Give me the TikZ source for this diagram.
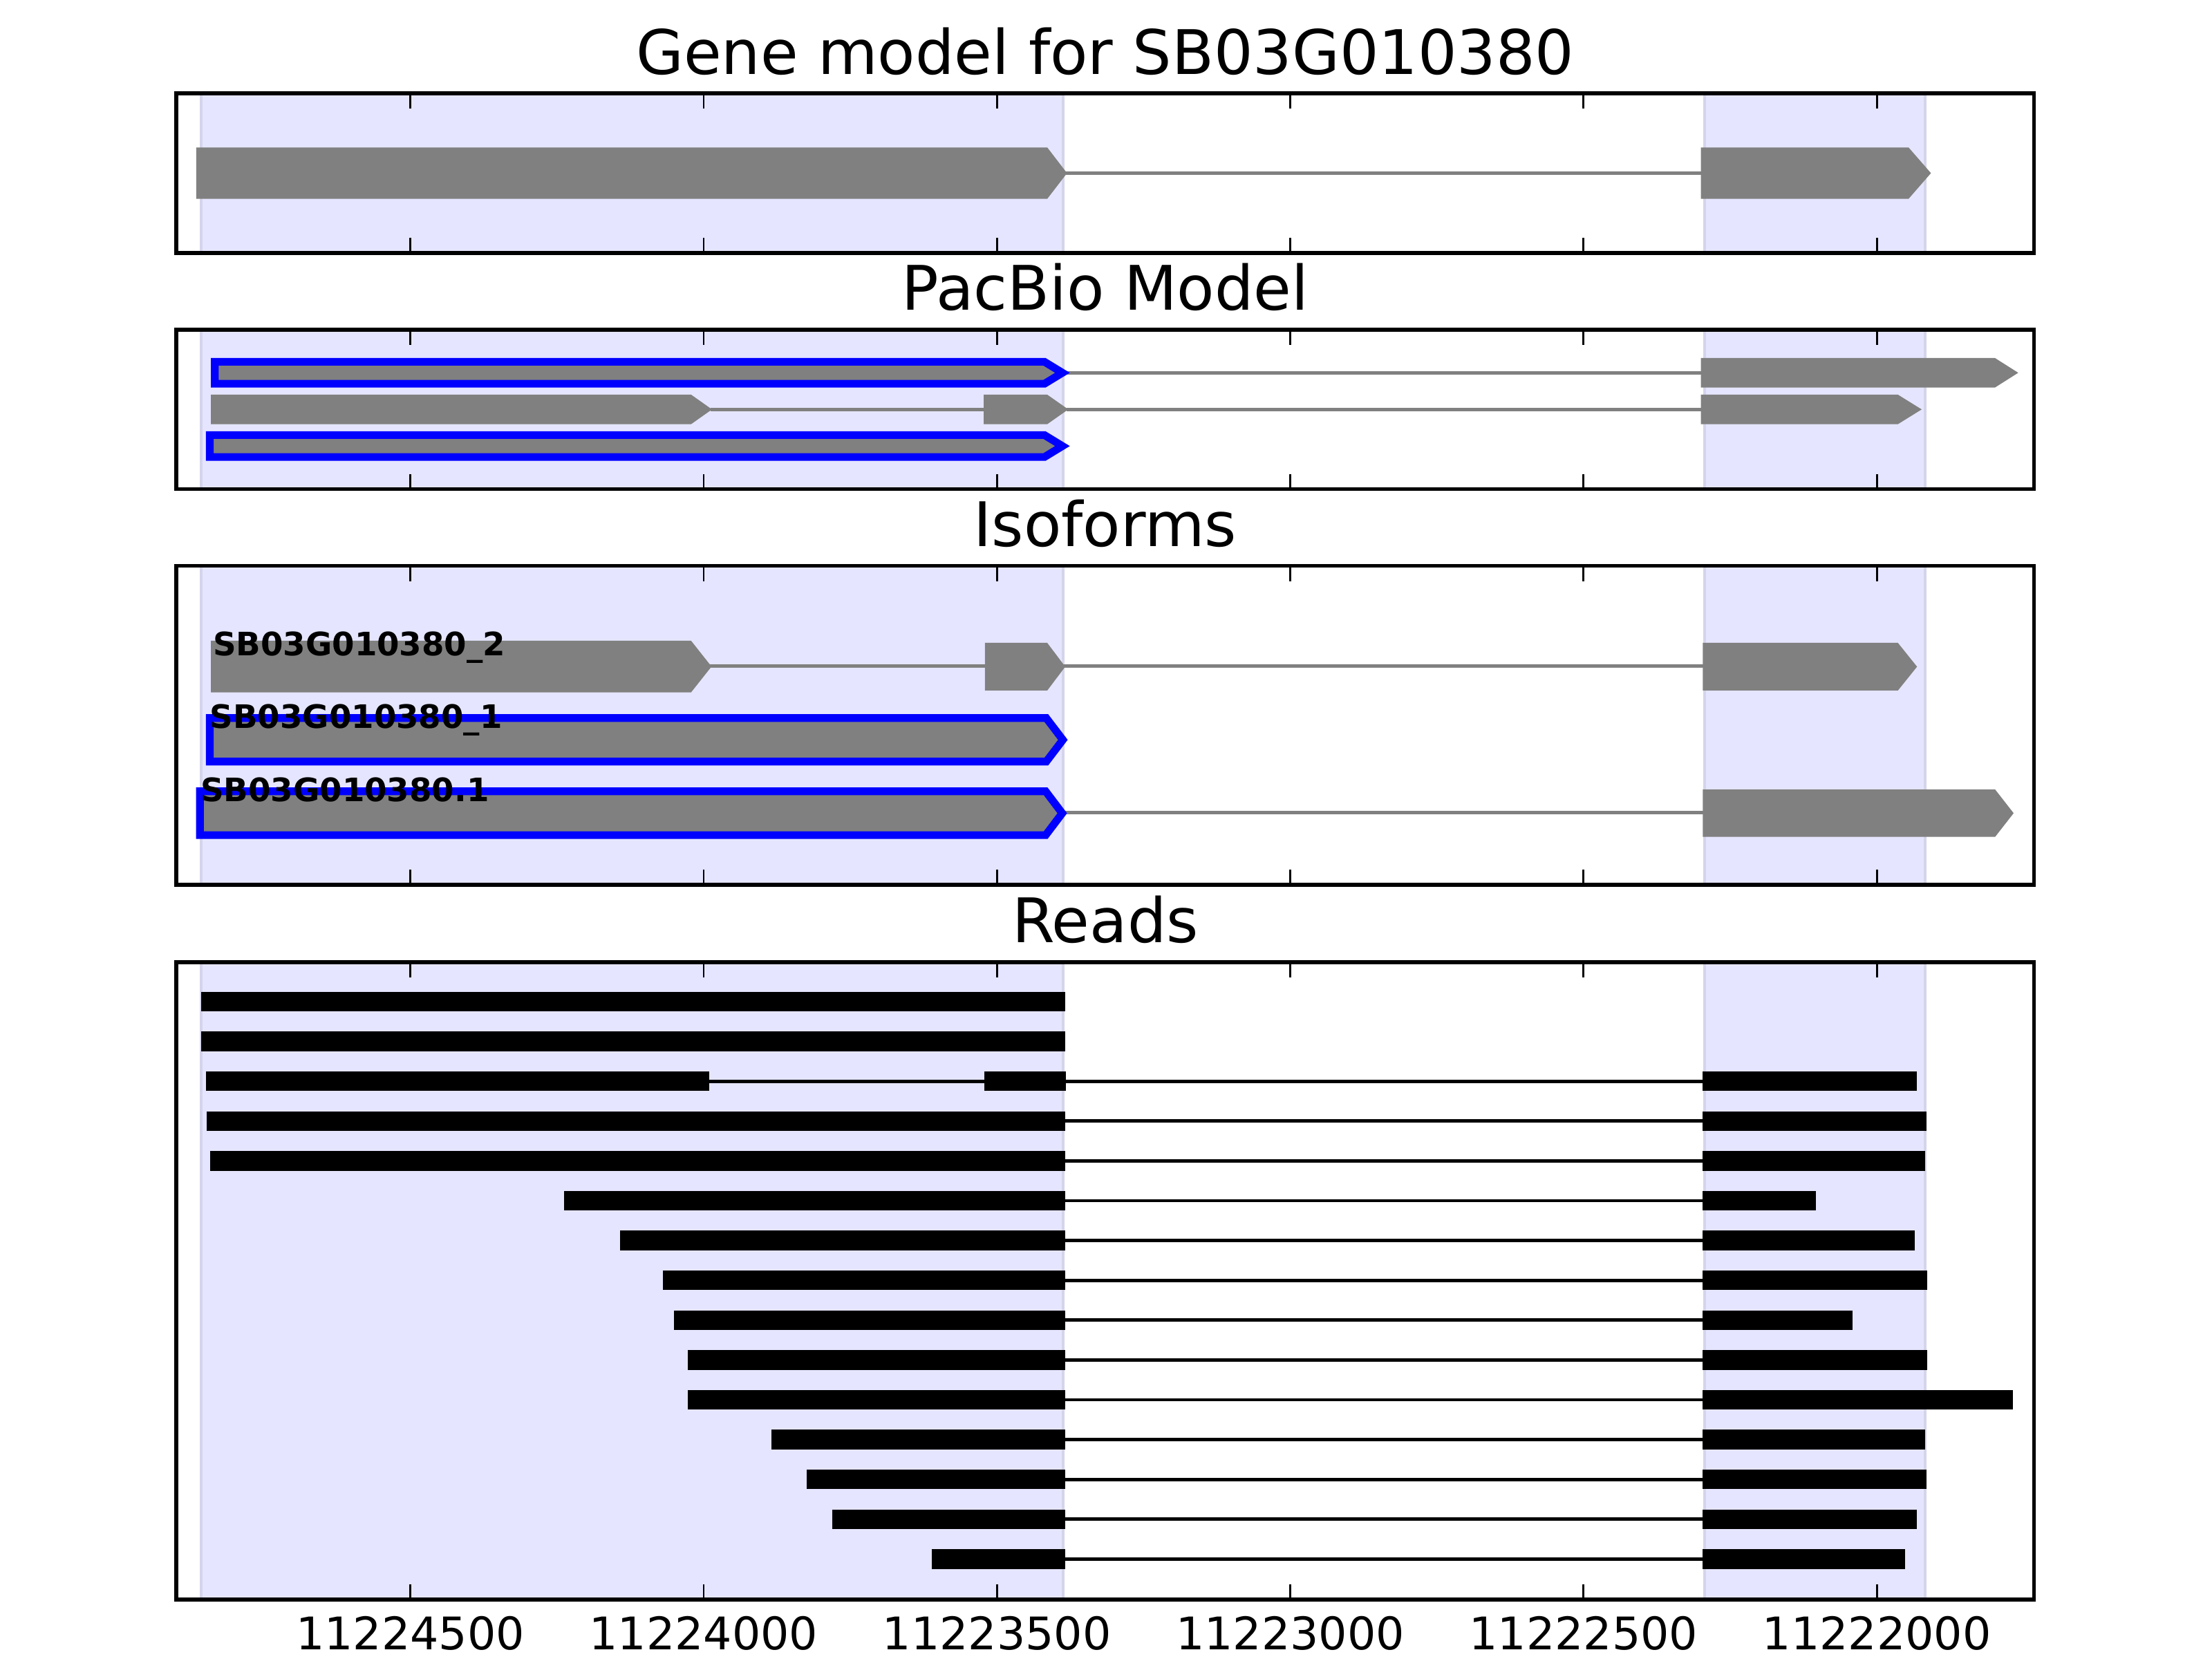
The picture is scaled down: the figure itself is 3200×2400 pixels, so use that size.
\documentclass[tikz,border=0pt]{standalone}
\usepackage{fontspec}
\setmainfont{DejaVu Sans}
\definecolor{genegray}{RGB}{128,128,128}
\definecolor{spanfill}{RGB}{229,229,255}
\definecolor{spanedge}{RGB}{212,212,235}
\newcommand\exonbox[5]{\fill[genegray] (#1,#4-#5) -- (#2,#4-#5) -- (#3,#4) -- (#2,#4+#5) -- (#1,#4+#5) -- cycle;}
\newcommand\blueexon[5]{\draw[blueedge] (#1,#4-#5) -- (#2,#4-#5) -- (#3,#4) -- (#2,#4+#5) -- (#1,#4+#5) -- cycle;}
\newcommand\grayintron[3]{\draw[grayline] (#1,#3) -- (#2,#3);}
\newcommand\readbar[3]{\fill[black] (#1,#3-14.15) rectangle (#2,#3+14.15);}
\newcommand\readgap[3]{\draw[readintron] (#1,#3) -- (#2,#3);}
\newcommand\panelframe[2]{%
  \fill[spanfill] (291,#1) rectangle (1538,#2);
  \fill[spanfill] (2466,#1) rectangle (2785,#2);
  \draw[spanedge] (291,#1) -- (291,#2) (1538,#1) -- (1538,#2) (2466,#1) -- (2466,#2) (2785,#1) -- (2785,#2);}
\newcommand\panelticks[2]{%
  \foreach \t in {593.6,1017.9,1442.2,1866.5,2290.8,2715.1}{
    \draw[tickline] (\t,#1) -- (\t,#1+22);
    \draw[tickline] (\t,#2) -- (\t,#2-22);}
  \draw[framebox] (255.2,#1) rectangle (2942.6,#2);}
\begin{document}
\begin{tikzpicture}[x=0.18bp,y=-0.18bp,
  blueedge/.style={draw=blue,fill=genegray,line width=2bp,line join=miter},
  grayline/.style={draw=genegray,line width=0.95bp},
  readintron/.style={draw=black,line width=0.85bp},
  spanedge/.style={draw=spanedge,line width=0.6bp},
  tickline/.style={draw=black,line width=0.5bp},
  framebox/.style={draw=black,line width=1bp},
  titletext/.style={anchor=base,inner sep=0pt,font=\fontsize{16bp}{19bp}\selectfont},
  ticktext/.style={anchor=base,inner sep=0pt,font=\fontsize{11.7bp}{14bp}\selectfont},
  isolabel/.style={anchor=base west,inner sep=0pt,font=\bfseries\fontsize{8.4bp}{10bp}\selectfont}]
\fill[white] (0,0) rectangle (3200,2400);
\useasboundingbox (0,0) rectangle (3200,2400);

% ---------- Panel 1: Gene model ----------
\panelframe{135}{365.8}
\grayintron{1540}{2462}{250.5}
\exonbox{283.75}{1515}{1543.6}{250.5}{37.2}
\exonbox{2460.5}{2761}{2793.4}{250.5}{37.2}
\panelticks{135}{365.8}
\node[titletext] (t1) at (1598.9,107.3) {Gene model for SB03G010380};

% ---------- Panel 2: PacBio Model ----------
\panelframe{476.8}{707.7}
\grayintron{1537}{2462}{539.3}
\blueexon{310.7}{1511}{1537}{539.3}{15.85}
\exonbox{2460.5}{2886}{2919.7}{539.3}{21.35}
\grayintron{1028}{1425}{592.3}
\grayintron{1543}{2462}{592.3}
\exonbox{305.2}{999.8}{1030}{592.3}{21.35}
\exonbox{1423}{1515}{1545.4}{592.3}{21.35}
\exonbox{2460.5}{2745.6}{2780}{592.3}{21.35}
\blueexon{303.5}{1511}{1537}{645.3}{15.85}
\panelticks{476.8}{707.7}
\node[titletext] (t2) at (1598.9,449) {PacBio Model};

% ---------- Panel 3: Isoforms ----------
\panelframe{818.7}{1279.8}
\grayintron{1027}{1426}{963.3}
\grayintron{1539}{2465}{963.3}
\exonbox{305.2}{999.8}{1029.3}{964.3}{37.3}
\exonbox{1424.8}{1515}{1541}{964.5}{34.5}
\exonbox{2463.4}{2745.6}{2773.3}{964.5}{34.5}
\blueexon{303.5}{1513.6}{1537.6}{1070.3}{31.5}
\grayintron{1536.7}{2465}{1175.7}
\blueexon{289.25}{1512.7}{1536.7}{1176.5}{31.7}
\exonbox{2463.4}{2886.2}{2913}{1176.4}{34.35}
\node[isolabel] (l1) at (307,948.3) {SB03G010380\_2};
\node[isolabel] (l2) at (302.5,1053.3) {SB03G010380\_1};
\node[isolabel] (l3) at (289,1160) {SB03G010380.1};
\panelticks{818.7}{1279.8}
\node[titletext] (t3) at (1598.9,790.7) {Isoforms};

% ---------- Panel 4: Reads ----------
\panelframe{1392}{2313.8}
\readbar{290.9}{1540.9}{1449}
\readbar{291}{1541}{1506.6}
\readgap{1025}{1425}{1564.2}\readgap{1541}{2464}{1564.2}
\readbar{298}{1025.7}{1564.2}\readbar{1424}{1541.8}{1564.2}\readbar{2463.4}{2773.4}{1564.2}
\readgap{1541}{2464}{1621.8}
\readbar{299}{1541}{1621.8}\readbar{2463.4}{2786.7}{1621.8}
\readgap{1541}{2464}{1679.4}
\readbar{304.3}{1541}{1679.4}\readbar{2463.4}{2784.8}{1679.4}
\readgap{1541}{2464}{1737}
\readbar{815.9}{1541}{1737}\readbar{2463.4}{2627}{1737}
\readgap{1541}{2464}{1794.6}
\readbar{897}{1541}{1794.6}\readbar{2463.4}{2769.5}{1794.6}
\readgap{1541}{2464}{1852.2}
\readbar{959.3}{1541}{1852.2}\readbar{2463.4}{2787.6}{1852.2}
\readgap{1541}{2464}{1909.8}
\readbar{974.9}{1541}{1909.8}\readbar{2463.4}{2679.6}{1909.8}
\readgap{1541}{2464}{1967.4}
\readbar{995}{1541}{1967.4}\readbar{2463.4}{2787.6}{1967.4}
\readgap{1541}{2464}{2025}
\readbar{995}{1541}{2025}\readbar{2463.4}{2912}{2025}
\readgap{1541}{2464}{2082.6}
\readbar{1116.3}{1541}{2082.6}\readbar{2463.4}{2784.8}{2082.6}
\readgap{1541}{2464}{2140.2}
\readbar{1167.2}{1541}{2140.2}\readbar{2463.4}{2786.7}{2140.2}
\readgap{1541}{2464}{2197.8}
\readbar{1203.8}{1541}{2197.8}\readbar{2463.4}{2773.4}{2197.8}
\readgap{1541}{2464}{2255.4}
\readbar{1347.8}{1541}{2255.4}\readbar{2463.4}{2756}{2255.4}
\panelticks{1392}{2313.8}
\node[titletext] (t4) at (1598.9,1364) {Reads};

% ---------- x tick labels ----------
\node[ticktext] (x1) at (593.6,2386.7) {11224500};
\node[ticktext] (x2) at (1017.9,2386.7) {11224000};
\node[ticktext] (x3) at (1442.2,2386.7) {11223500};
\node[ticktext] (x4) at (1866.5,2386.7) {11223000};
\node[ticktext] (x5) at (2290.8,2386.7) {11222500};
\node[ticktext] (x6) at (2715.1,2386.7) {11222000};
\end{tikzpicture}
\end{document}
